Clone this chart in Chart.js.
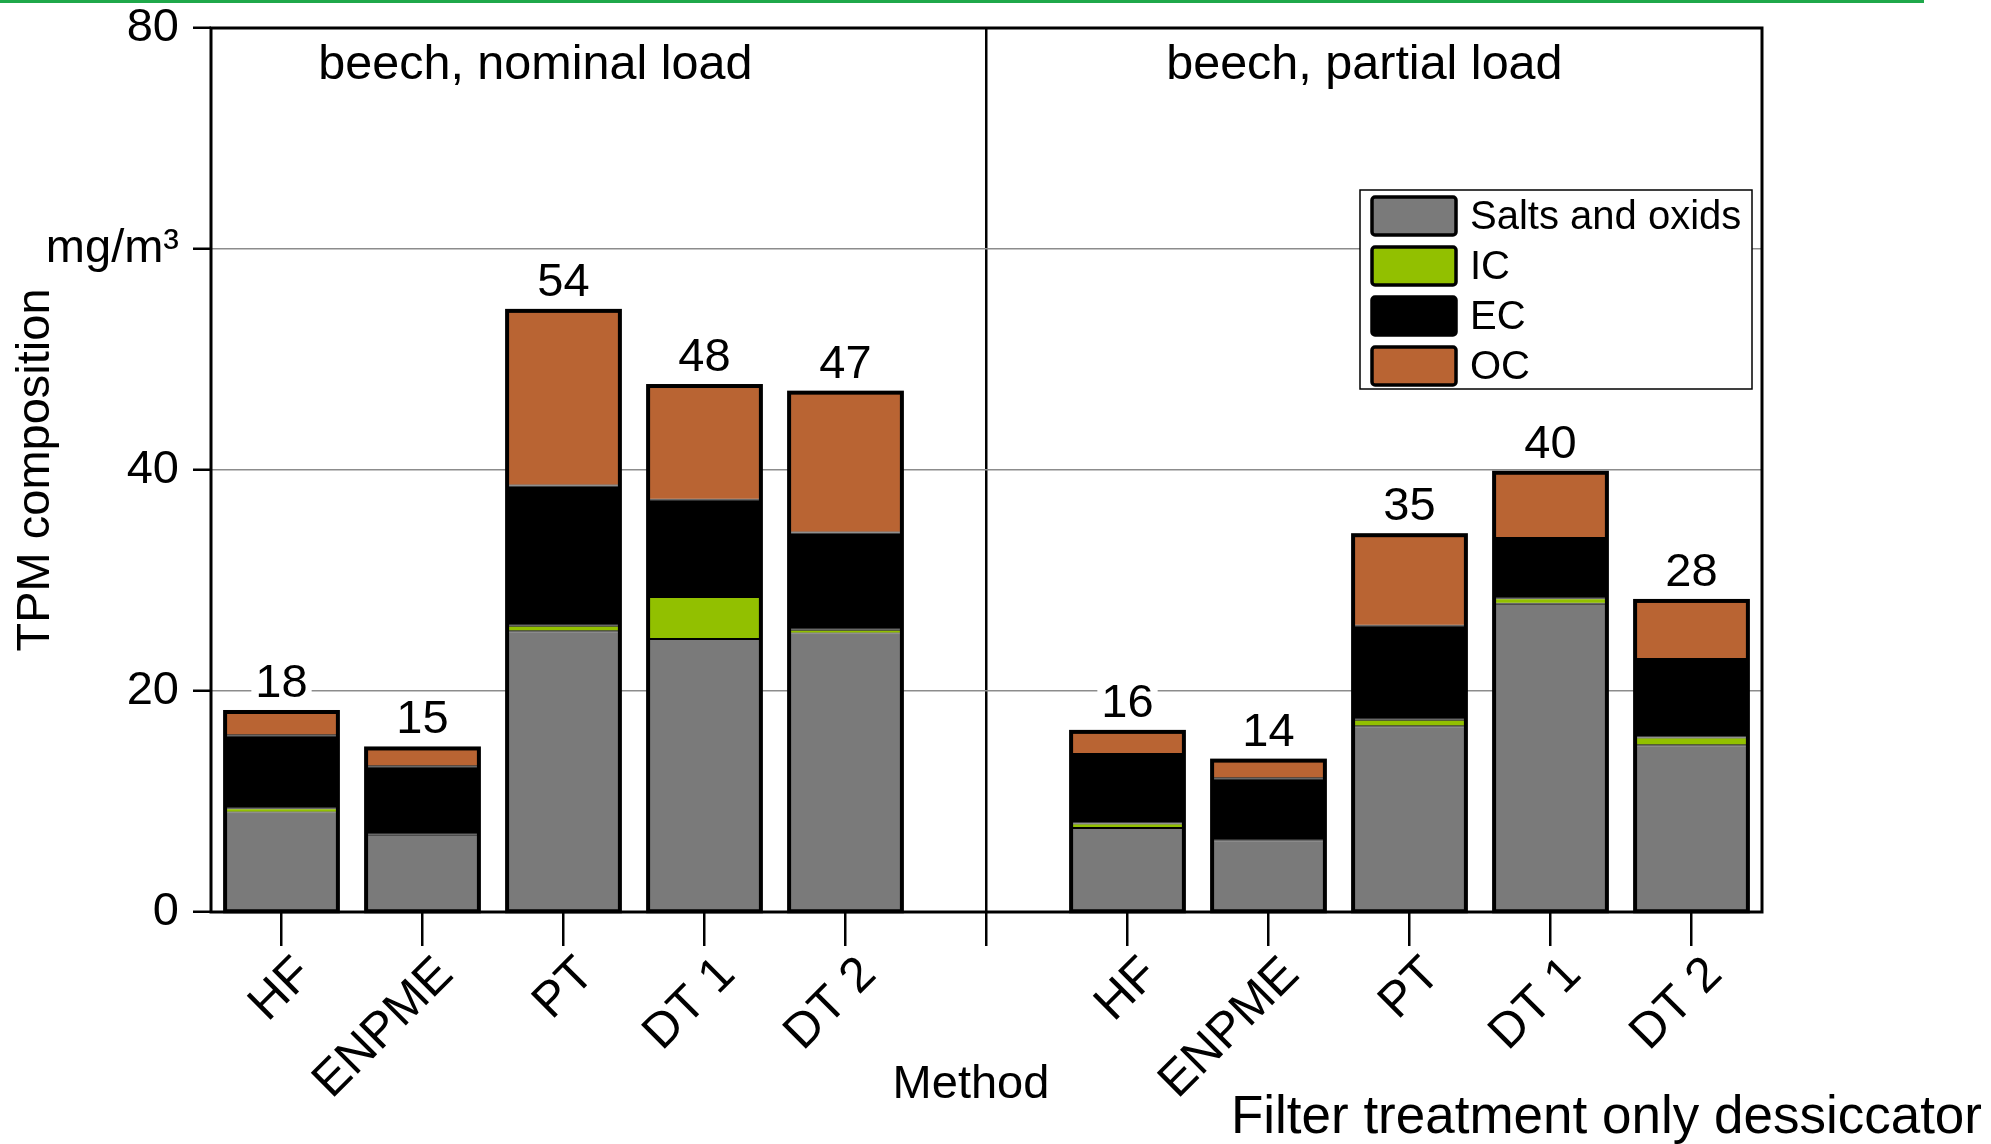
<!DOCTYPE html>
<html>
<head>
<meta charset="utf-8">
<script src="https://cdn.jsdelivr.net/npm/chart.js@4/dist/chart.umd.min.js"></script>
<style>
  html, body { margin: 0; padding: 0; background: #fff; }
  #wrap { width: 1991px; height: 1144px; }
</style>
</head>
<body>
<div id="wrap"><canvas id="chart" width="1991" height="1144"></canvas></div>
<script>
// Chart data
const categories = ['HF', 'ENPME', 'PT', 'DT 1', 'DT 2', '', 'HF', 'ENPME', 'PT', 'DT 1', 'DT 2'];
const salts = [9.0, 7.0, 25.4, 24.7, 25.2, null, 7.6, 6.5, 16.8, 27.9, 15.1];
const ic    = [0.4, 0.0, 0.5, 3.8, 0.35, null, 0.4, 0.0, 0.6, 0.5, 0.7];
const ec    = [6.6, 6.2, 12.7, 8.8, 8.8, null, 6.3, 5.6, 8.5, 5.45, 7.1];
const oc    = [2.1, 1.6, 15.8, 10.3, 12.65, null, 2.0, 1.6, 8.2, 5.9, 5.25];
const totalLabels = ['18', '15', '54', '48', '47', '', '16', '14', '35', '40', '28'];
const seriesNames = ['Salts and oxids', 'IC', 'EC', 'OC'];
const panelTitles = ['beech, nominal load', 'beech, partial load'];
const yTickValues = [0, 20, 40, 60, 80];
const yTickLabels = ['0', '20', '40', 'mg/m³', '80'];

const FONT = '"Liberation Sans", Arial, sans-serif';
const colors = ['#7a7a7a', '#92c000', '#000000', '#b96433'];

function roundRect(ctx, x, y, w, h, r) {
  ctx.beginPath();
  ctx.moveTo(x + r, y);
  ctx.arcTo(x + w, y, x + w, y + h, r);
  ctx.arcTo(x + w, y + h, x, y + h, r);
  ctx.arcTo(x, y + h, x, y, r);
  ctx.arcTo(x, y, x + w, y, r);
  ctx.closePath();
}

// Draws outlines, totals, panel titles, legend and axis titles
const decorPlugin = {
  id: 'decor',
  beforeDraw(chart) {
    const ctx = chart.ctx;
    ctx.save();
    ctx.strokeStyle = '#1fa84a';
    ctx.lineWidth = 3;
    ctx.beginPath();
    ctx.moveTo(0, 1.5);
    ctx.lineTo(1924, 1.5);
    ctx.stroke();
    ctx.restore();
  },
  afterDatasetsDraw(chart) {
    const ctx = chart.ctx;
    const area = chart.chartArea;
    const x = chart.scales.x;
    const bottomMeta = chart.getDatasetMeta(0);
    const topMeta = chart.getDatasetMeta(chart.data.datasets.length - 1);
    ctx.save();

    // outline of each stack
    ctx.strokeStyle = '#000';
    ctx.lineWidth = 4;
    bottomMeta.data.forEach((bar, i) => {
      if (salts[i] === null) return;
      const top = topMeta.data[i];
      ctx.strokeRect(bar.x - bar.width / 2, top.y, bar.width, bar.base - top.y);
    });

    // plot frame
    ctx.lineWidth = 3;
    ctx.strokeRect(area.left, area.top, area.right - area.left, area.bottom - area.top);

    // totals above bars
    ctx.font = '47px ' + FONT;
    ctx.textAlign = 'center';
    ctx.textBaseline = 'middle';
    topMeta.data.forEach((bar, i) => {
      if (!totalLabels[i]) return;
      const ty = bar.y - 30;
      const w = ctx.measureText(totalLabels[i]).width;
      ctx.fillStyle = '#fff';
      ctx.fillRect(bar.x - w / 2 - 4, ty - 20, w + 8, 40);
      ctx.fillStyle = '#000';
      ctx.fillText(totalLabels[i], bar.x, ty + 2);
    });

    // panel titles
    ctx.font = '48.5px ' + FONT;
    ctx.fillText(panelTitles[0], x.getPixelForValue(1.8), area.top + 38);
    ctx.fillText(panelTitles[1], x.getPixelForValue(7.68), area.top + 38);

    // legend
    const lx = area.right - 402, ly = area.top + 162;
    ctx.fillStyle = '#fff';
    ctx.fillRect(lx, ly, 392, 199);
    ctx.lineWidth = 1.5;
    ctx.strokeRect(lx, ly, 392, 199);
    ctx.font = '40px ' + FONT;
    ctx.textAlign = 'left';
    chart.data.datasets.forEach((ds, k) => {
      const cy = ly + 26 + k * 50;
      roundRect(ctx, lx + 12, cy - 19, 84, 38, 3);
      ctx.fillStyle = ds.backgroundColor;
      ctx.fill();
      ctx.lineWidth = 3.5;
      ctx.stroke();
      ctx.fillStyle = '#000';
      ctx.fillText(ds.label, lx + 110, cy + 2);
    });

    // axis titles
    ctx.font = '47px ' + FONT;
    ctx.textAlign = 'center';
    ctx.save();
    ctx.translate(36, 470);
    ctx.rotate(-Math.PI / 2);
    ctx.fillText('TPM composition', 0, 0);
    ctx.restore();
    ctx.fillText('Method', 971, 1085);
    ctx.font = '53px ' + FONT;
    ctx.textAlign = 'right';
    ctx.fillText('Filter treatment only dessiccator', 1982, 1118);
    ctx.restore();
  }
};

function initChart() {
  const canvas = document.getElementById('chart');
  const seriesData = [salts, ic, ec, oc];
  new Chart(canvas, {
    type: 'bar',
    data: {
      labels: categories,
      datasets: seriesData.map((d, k) => ({
        label: seriesNames[k],
        data: d,
        backgroundColor: colors[k],
        borderColor: '#000',
        borderWidth: 1,
        borderSkipped: false,
        barPercentage: 0.8,
        categoryPercentage: 1.0
      }))
    },
    options: {
      responsive: false,
      devicePixelRatio: 1,
      animation: false,
      layout: { padding: { top: 28, right: 229, left: 0, bottom: 0 } },
      plugins: {
        legend: { display: false },
        tooltip: { enabled: false }
      },
      scales: {
        x: {
          stacked: true,
          offset: true,
          border: { display: false },
          grid: {
            offset: false,
            drawOnChartArea: true,
            color: (c) => c.index === 5 ? '#000' : 'rgba(0,0,0,0)',
            lineWidth: 2.5,
            tickColor: '#000',
            tickLength: 34,
            tickWidth: 2.5
          },
          ticks: {
            color: '#000',
            font: { family: FONT, size: 49 },
            autoSkip: false,
            maxRotation: 45,
            minRotation: 45,
            padding: 0,
            labelOffset: 23
          },
          afterFit: (s) => { s.height = 232; s.paddingLeft = 0; s.paddingRight = 0; }
        },
        y: {
          stacked: true,
          min: 0,
          max: 80,
          border: { display: false },
          afterBuildTicks: (s) => { s.ticks = yTickValues.map(v => ({ value: v })); },
          grid: {
            color: (c) => (c.tick && c.tick.value > 0 && c.tick.value < 80) ? '#8c8c8c' : 'rgba(0,0,0,0)',
            lineWidth: 1.5,
            tickColor: '#000',
            tickLength: 18,
            tickWidth: 2.5
          },
          ticks: {
            color: '#000',
            font: { family: FONT, size: 47 },
            padding: 14,
            callback: (v) => yTickLabels[yTickValues.indexOf(v)]
          },
          afterFit: (s) => { s.width = 211; s.paddingTop = 0; s.paddingBottom = 0; }
        }
      }
    },
    plugins: [decorPlugin]
  });
}

document.addEventListener('DOMContentLoaded', initChart);
</script>
</body>
</html>
